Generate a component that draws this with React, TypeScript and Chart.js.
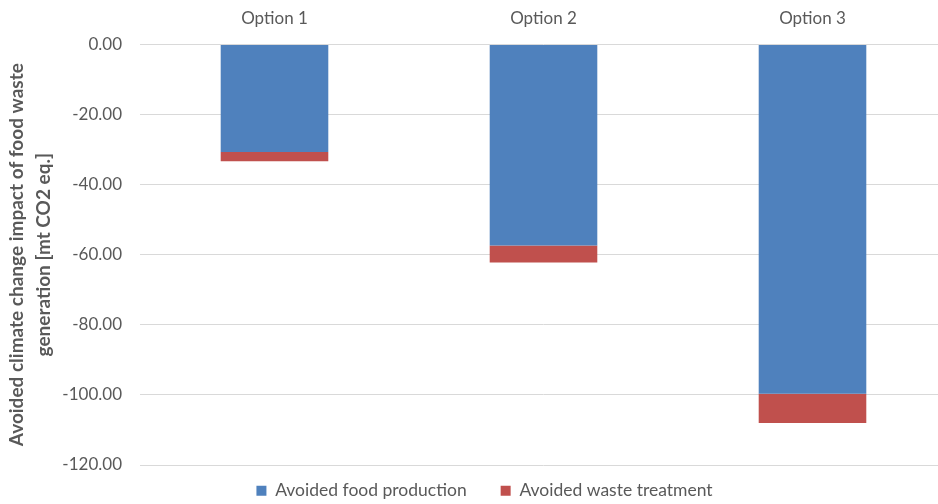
import React, { useEffect, useRef } from "react";
import { Chart, registerables } from "chart.js";

Chart.register(...registerables);

const categories = ["Option 1", "Option 2", "Option 3"];
const avoidedFoodProduction = [-30.7, -57.4, -99.7];
const avoidedWasteTreatment = [-2.65, -4.8, -8.3];
const seriesNames = ["Avoided food production", "Avoided waste treatment"];
const yTitle = ["Avoided climate change impact of food waste", "generation [mt CO2 eq.]"];

const LEGEND_HEIGHT = 39;
const LEGEND_SHIFT = 17;
const LEGEND_XSHIFT = 9;

const legendFit = {
  id: "legendFit",
  beforeLayout(chart: any) {
    const lg = chart.legend;
    if (lg && !lg.__wrapped) {
      const orig = lg.fit.bind(lg);
      lg.fit = function () {
        orig();
        this.height = LEGEND_HEIGHT;
      };
      lg.__wrapped = true;
    }
  },
  afterLayout(chart: any) {
    const lg = chart.legend;
    if (lg) {
      lg.top -= LEGEND_SHIFT;
      lg.left += LEGEND_XSHIFT;
      lg.right += LEGEND_XSHIFT;
    }
  },
};

export default function App() {
  const ref = useRef<HTMLCanvasElement | null>(null);
  useEffect(() => {
    document.body.style.margin = "0";
    const font = "Lato, 'Open Sans', sans-serif";
    const chart = new Chart(ref.current!, {
      type: "bar",
      data: {
        labels: categories,
        datasets: [
          { label: seriesNames[0], data: avoidedFoodProduction, backgroundColor: "#4F81BD" },
          { label: seriesNames[1], data: avoidedWasteTreatment, backgroundColor: "#C0504D" },
        ],
      },
      plugins: [legendFit],
      options: {
        animation: false,
        responsive: false,
        maintainAspectRatio: false,
        datasets: { bar: { barPercentage: 0.4, categoryPercentage: 1 } },
        layout: { padding: { top: 0, left: 4, right: 0, bottom: 0 } },
        plugins: {
          legend: {
            position: "bottom",
            labels: { boxWidth: 10, boxHeight: 10, color: "#595959", font: { family: font, size: 17.5 }, padding: 34 },
          },
          tooltip: { enabled: false },
        },
        scales: {
          x: {
            position: "top",
            stacked: true,
            grid: { display: false },
            border: { display: false },
            ticks: { color: "#595959", font: { family: font, size: 17 }, padding: 8 },
          },
          y: {
            stacked: true,
            min: -120,
            max: 0,
            afterFit: (scale: any) => {
              scale.width = 136;
            },
            ticks: {
              stepSize: 20,
              color: "#595959",
              font: { family: font, size: 17 },
              padding: 18,
              callback: (v: any) => Number(v).toFixed(2),
            },
            grid: { color: "#D9D9D9", lineWidth: 1, drawTicks: false },
            border: { display: false },
            title: {
              display: true,
              text: yTitle,
              color: "#595959",
              font: { family: font, size: 19, weight: "bold", lineHeight: 1.4 },
              padding: { top: 0, bottom: 0 },
            },
          },
        },
      },
    });
    return () => chart.destroy();
  }, []);
  return (
    <div style={{ position: "fixed", left: 0, top: 0, width: 938, height: 504, overflow: "hidden" }}>
      <canvas ref={ref} width={947} height={504} style={{ display: "block" }} />
    </div>
  );
}
